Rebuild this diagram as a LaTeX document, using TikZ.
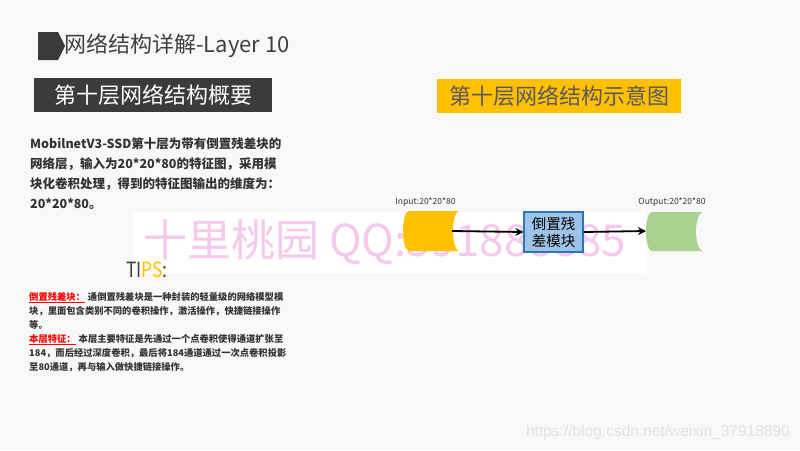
\documentclass[tikz,border=0pt]{standalone}
\usepackage{fontspec}
\setmainfont{Noto Sans CJK SC}
\newfontfamily\urlfont{Liberation Sans}
\usetikzlibrary{arrows.meta}

\definecolor{bggray}{HTML}{F8F8F8}
\definecolor{darkbox}{HTML}{3B3B3B}
\definecolor{titlegray}{HTML}{404040}
\definecolor{bodygray}{HTML}{333333}
\definecolor{boxorange}{HTML}{FFC000}
\definecolor{orangetext}{HTML}{5A5A5A}
\definecolor{blockblue}{HTML}{9DC3E6}
\definecolor{blockline}{HTML}{2E75B6}
\definecolor{outgreen}{HTML}{A9D18E}
\definecolor{wmpink}{HTML}{F5C8EC}
\definecolor{urlgray}{HTML}{E2E2E2}

\newcommand{\redlbl}[1]{\textcolor{red}{\underline{#1}}}

\tikzset{
    headbox/.style={minimum width=#1, minimum height=34, inner sep=0pt,
        font=\fontsize{22}{26}\selectfont},
    blockbox/.style={draw=blockline, line width=1.2pt, fill=blockblue, text=black,
        minimum width=59, minimum height=40, inner sep=0pt, align=center,
        font=\fontsize{14.5}{17}\selectfont},
    link/.style={-{Stealth[length=8pt,width=8pt]}, line width=1.8pt},
    dimlbl/.style={inner sep=0pt, text=bodygray, font=\fontsize{8.5}{9}\selectfont},
    textblock/.style={anchor=north west, inner sep=0pt, align=left, text=bodygray},
}

\begin{document}
\begin{tikzpicture}[x=1pt,y=1pt]
    \useasboundingbox (0,0) rectangle (800,-450);
    \fill [bggray] (0,0) rectangle (800,-450);
    % title
    \fill [darkbox] (38,-32) -- (58,-32) -- (65,-46) -- (58,-60) -- (38,-60) -- cycle;
    \node (title) [anchor=west, inner sep=0pt, text=titlegray, font=\fontsize{22}{26}\selectfont] at (64,-46) {网络结构详解-Layer 10};
    \node (overview) [headbox=238, fill=darkbox, text=white] at (153,-95) {第十层网络结构概要};
    \node (sketch) [headbox=244, fill=boxorange, text=orangetext] at (559,-96) {第十层网络结构示意图};
    % text
    \node (intro) [textblock, font=\bfseries\fontsize{12.5}{20}\selectfont] at (30,-137)
        {MobilnetV3-SSD第十层为带有倒置残差块的\\
         网络层，输入为20*20*80的特征图，采用模\\
         块化卷积处理，得到的特征图输出的维度为：\\
         20*20*80。};
    % watermark
    \fill [white] (133,-212) rectangle (646,-273);
    \node (mark) [anchor=west, inner sep=0pt, text=wmpink, font=\fontsize{44}{48}\selectfont] at (143,-242) {十里桃园 QQ:591888885};
    % input / output
    \fill [boxorange] (409,-211) -- (459,-211) arc [start angle=90, end angle=270, x radius=6, y radius=20]
        -- (409,-251) arc [start angle=270, end angle=90, x radius=6, y radius=20] -- cycle;
    \fill [outgreen] (652,-212) -- (703,-212) arc [start angle=90, end angle=270, x radius=7, y radius=19.5]
        -- (652,-251) arc [start angle=270, end angle=90, x radius=6, y radius=19.5] -- cycle;
    \coordinate (inR) at (452,-231);
    \coordinate (outL) at (646,-231);
    \node (inlbl) [dimlbl] at (425.5,-202) {Input:20*20*80};
    \node (outlbl) [dimlbl] at (672,-202) {Output:20*20*80};
    \node (block) [blockbox] at (553.5,-232) {倒置残\\差模块};
    \draw [link] (inR) -- (block.west);
    \draw [link] (block.east) -- (outL);
    % tips
    \node (tips) [anchor=west, inner sep=0pt, font=\fontsize{21}{26}\selectfont] at (126,-270)
        {\scalebox{0.83}[1]{\textcolor{titlegray}{TI}\textcolor{boxorange}{PS}\textcolor{titlegray}{:}}};
    \node (tipsbody) [textblock, font=\bfseries\fontsize{9.3}{14}\selectfont] at (29,-292)
        {\redlbl{倒置残差块：}\hspace{3pt}通倒置残差块是一种封装的轻量级的网络模型模\\
         块，里面包含类别不同的卷积操作，激活操作，快捷链接操作\\
         等。\\
         \redlbl{本层特征：}\hspace{3pt}本层主要特征是先通过一个点卷积使得通道扩张至\\
         184，而后经过深度卷积，最后将184通道通过一次点卷积投影\\
         至80通道，再与输入做快捷链接操作。};
    \node (url) [anchor=east, inner sep=0pt, text=urlgray, font=\urlfont\fontsize{15.5}{17}\selectfont] at (790,-432) {https://blog.csdn.net/weixin\_37918890};
\end{tikzpicture}
\end{document}
